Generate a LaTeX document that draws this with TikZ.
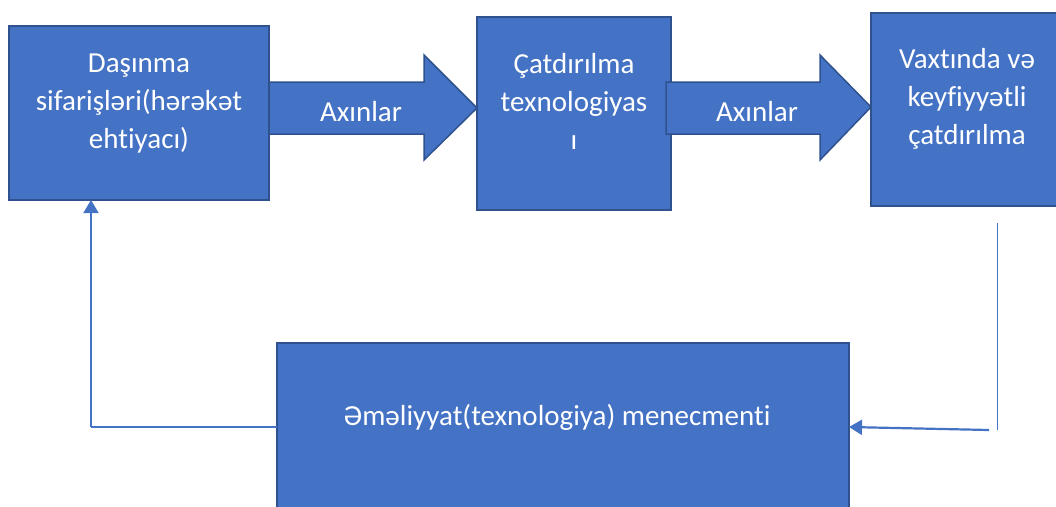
\documentclass[tikz,border=0pt]{standalone}
\usepackage{fontspec}
\setmainfont{Carlito}[RawFeature={-liga;-clig;-dlig}]
\usetikzlibrary{arrows.meta}
\definecolor{fillblue}{HTML}{4472C4}
\definecolor{edgeblue}{HTML}{2F528F}
\begin{document}
\begin{tikzpicture}[x=1pt,y=-1pt,
  box/.style={draw=edgeblue,fill=fillblue,line width=1.5pt,inner sep=0pt,outer sep=0pt,anchor=north west},
  blockarrow/.style={draw=edgeblue,fill=fillblue,line width=1.5pt,line join=miter},
  lbl/.style={text=white,font=\fontsize{29}{38}\selectfont,align=center,inner sep=0pt},
  fbline/.style={draw=fillblue,line width=1.5pt},
  fbarrow/.style={draw=fillblue,line width=1.8pt,-{Triangle[length=13pt,width=15pt]}}]
\useasboundingbox (0,0) rectangle (1056,506);
% boxes
\node[box,minimum width=260pt,minimum height=174pt] (b1) at (9,26) {};
\node[box,minimum width=194pt,minimum height=193pt] (b2) at (477,17) {};
\node[box,minimum width=192pt,minimum height=193pt] (b3) at (871,13) {};
\node[box,minimum width=572pt,minimum height=180pt] (b4) at (277,343) {};
% block arrows
\path[blockarrow] (b1.east |- 0,82) -- (424,82) -- (424,55) -- (b2.west |- 0,108)
   -- (424,160) -- (424,134) -- (b1.east |- 0,134) -- cycle;
\path[blockarrow] (666,82) -- (820,82) -- (820,55) -- (b3.west |- 0,107)
   -- (820,160) -- (820,134) -- (666,134) -- cycle;
% labels
\node[lbl] (t1) at (139,104) {Daşınma\\sifarişləri(hərəkət\\ehtiyacı)};
\node[lbl] (t2) at (574,101) {Çatdırılma\\texnologiyas\\ı};
\node[lbl] (t3) at (967,99) {Vaxtında və\\keyfiyyətli\\çatdırılma};
\node[lbl] (a1) at (361,111.5) {Axınlar};
\node[lbl] (a2) at (757,111.5) {Axınlar};
\node[lbl] (t4) at (557,417) {Əməliyyat(texnologiya) menecmenti};
% feedback connectors
\coordinate (lc) at (91,427);
\coordinate (rt) at (997,223);
\coordinate (rc) at (997,430);
\draw[fbline,line width=1.3pt] (b4.west |- lc) -- (lc);
\draw[fbarrow] (lc) -- (lc |- b1.south);
\draw[fbline,line width=1pt] (rt) -- (rc);
\draw[fbarrow,line width=2.2pt] ([xshift=-8pt]rc) -- (b4.east |- 0,427);
\end{tikzpicture}
\end{document}
